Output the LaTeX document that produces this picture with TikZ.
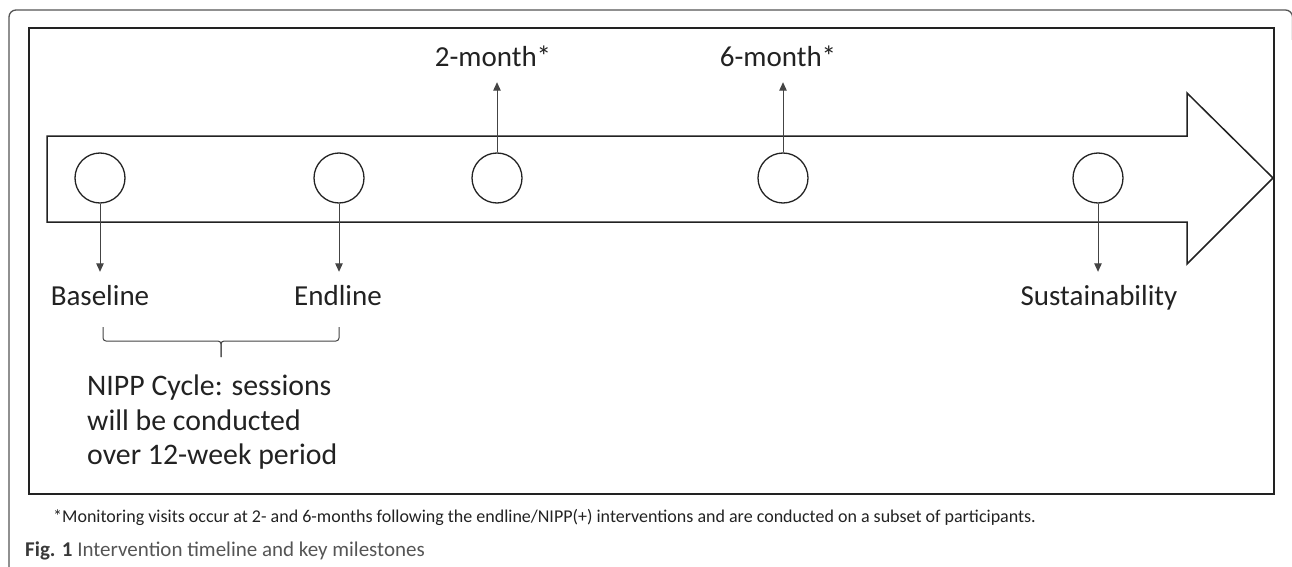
\documentclass[tikz,border=0pt]{standalone}
\usepackage{fontspec}
\setmainfont{Carlito}
\usetikzlibrary{arrows.meta}
\definecolor{ink}{HTML}{222222}
\definecolor{conn}{HTML}{444444}
\definecolor{frame}{HTML}{555555}
\definecolor{capgrey}{HTML}{555555}
\tikzset{
  milestone/.style={circle, draw=ink, line width=1.3pt, minimum size=50pt, inner sep=0pt},
  lab/.style={font=\fontsize{29}{34}\selectfont, text=ink, inner sep=0pt, text height=20pt, text depth=6pt, anchor=base},
  link/.style={draw=conn, line width=1pt, -{Triangle[width=7.5pt,length=8.5pt]}},
}
\begin{document}
\begin{tikzpicture}[x=1pt,y=-1pt]
\useasboundingbox (0,0) rectangle (1292,567);
% outer frame
\draw[frame, line width=1.3pt, rounded corners=7pt] (9,580) -- (9,10) -- (1292.5,10) -- (1292.5,40);
% inner box
\draw[ink, line width=2.2pt] (29,28) rectangle (1274,494);
% big arrow
\draw[ink, line width=1.5pt, line join=miter] (47,136) -- (1187,136) -- (1187,93) -- (1273,178) -- (1187,264) -- (1187,222) -- (47,222) -- cycle;
% milestones
\node[milestone] (c1) at (100,178) {};
\node[milestone] (c2) at (339,178) {};
\node[milestone] (c3) at (497,178) {};
\node[milestone] (c4) at (783,178) {};
\node[milestone] (c5) at (1098,178) {};
% labels
\node[lab] (l1) at (100,305) {Baseline};
\node[lab] (l2) at (338,305) {Endline};
\node[lab] (l3) at (493,67) {2-month*};
\node[lab] (l4) at (778,67) {6-month*};
\node[lab] (l5) at (1099,305) {Sustainability};
% connectors
\draw[link, shorten >=13pt] (c1) -- (c1 |- l1.north);
\draw[link, shorten >=13pt] (c2) -- (c2 |- l2.north);
\draw[link, shorten >=9pt] (c3) -- (c3 |- l3.south);
\draw[link, shorten >=9pt] (c4) -- (c4 |- l4.south);
\draw[link, shorten >=13pt] (c5) -- (c5 |- l5.north);
% bracket
\draw[conn, line width=1pt, rounded corners=3pt] (103,327) -- (103,341) -- (221,341) -- (221,357);
\draw[conn, line width=1pt, rounded corners=3pt] (221,357) -- (221,341) -- (339,341) -- (339,327);
% NIPP text
\node[font=\fontsize{29.8}{34.5}\selectfont, text=ink, align=left, inner sep=0pt, anchor=north west] (nipp) at (87,375)
  {NIPP Cycle: sessions\\will be conducted\\over 12-week period};
% captions
\node[font=\fontsize{18}{22}\selectfont, text=ink, inner sep=0pt, anchor=base west] (note) at (53,522)
  {*Monitoring visits occur at 2- and 6-months following the endline/NIPP(+) interventions and are conducted on a subset of participants.};
\node[font=\fontsize{21}{25}\selectfont, text=capgrey, inner sep=0pt, anchor=base west] (cap) at (25,556)
  {{\bfseries\color{ink!90}Fig. 1} Intervention timeline and key milestones};
\end{tikzpicture}
\end{document}
